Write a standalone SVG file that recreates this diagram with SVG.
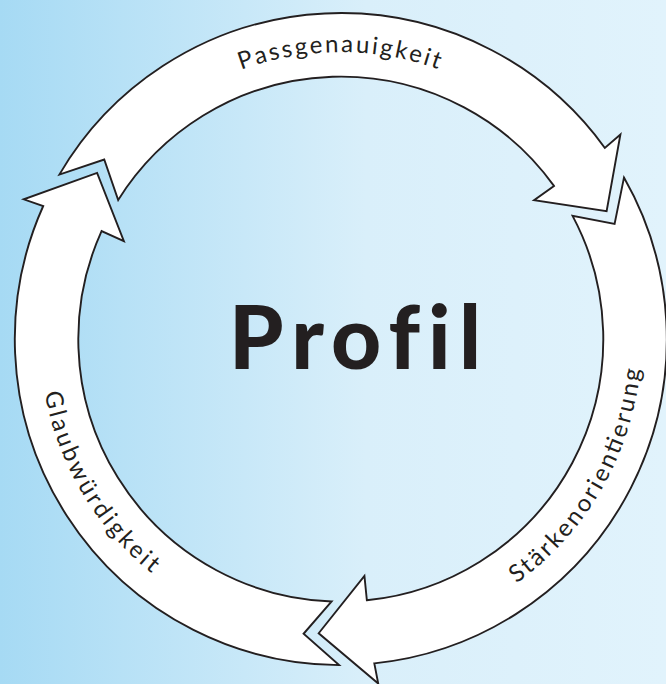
<svg xmlns="http://www.w3.org/2000/svg" xmlns:xlink="http://www.w3.org/1999/xlink" width="666" height="684" viewBox="0 0 666 684">
  <defs>
    <linearGradient id="bg" x1="0" y1="0" x2="1" y2="0">
      <stop offset="0" stop-color="#a6daf4"/>
      <stop offset="0.55" stop-color="#d9effa"/>
      <stop offset="1" stop-color="#e1f3fc"/>
    </linearGradient>
    <path id="tp-pass" d="M241.2,69.9 A287,287 0 0 1 484.3,90.6"/>
    <path id="tp-staerke" d="M516.4,583.5 A301,301 0 0 0 640.7,312.9"/>
    <path id="tp-glaub" d="M44.6,392.9 A301,301 0 0 0 190.3,599.8"/>
  </defs>
  <style>
    .arrow{fill:#ffffff;stroke:#231f20;stroke-width:1.9;stroke-linejoin:miter;stroke-miterlimit:10}
    .lbl{font-family:Lato,"Open Sans","DejaVu Sans",sans-serif;font-size:24px;fill:#231f20}
    .title{font-family:Lato,"Open Sans","DejaVu Sans",sans-serif;font-weight:900;font-size:87px;fill:#231f20;font-variant-ligatures:none;font-feature-settings:"liga" 0}
  </style>
  <rect x="0" y="0" width="666" height="684" fill="url(#bg)"/>
  <g id="connectors">
    <g id="arrow-passgenauigkeit">
      <path class="arrow" d="M59.33,174.62 A326,326 0 0 1 604.87,147.94 L620.41,134.45 L606.62,211.17 L534.07,200.22 L553.97,185.92 A262.5,262.5 0 0 0 118.19,200.00 L104.23,159.53 Z"/>
      <text class="lbl"><textPath xlink:href="#tp-pass" href="#tp-pass" textLength="201" lengthAdjust="spacing">Passgenauigkeit</textPath></text>
    </g>
    <g id="arrow-staerkenorientierung">
      <path class="arrow" transform="rotate(120 340.8 339.1)" d="M59.33,174.62 A326,326 0 0 1 604.87,147.94 L620.41,134.45 L606.62,211.17 L534.07,200.22 L553.97,185.92 A262.5,262.5 0 0 0 118.19,200.00 L104.23,159.53 Z"/>
      <text class="lbl"><textPath xlink:href="#tp-staerke" href="#tp-staerke" textLength="255" lengthAdjust="spacing">Stärkenorientierung</textPath></text>
    </g>
    <g id="arrow-glaubwuerdigkeit">
      <path class="arrow" transform="rotate(240 340.8 339.1)" d="M59.33,174.62 A326,326 0 0 1 604.87,147.94 L620.41,134.45 L606.62,211.17 L534.07,200.22 L553.97,185.92 A262.5,262.5 0 0 0 118.19,200.00 L104.23,159.53 Z"/>
      <text class="lbl"><textPath xlink:href="#tp-glaub" href="#tp-glaub" textLength="214" lengthAdjust="spacing">Glaubwürdigkeit</textPath></text>
    </g>
  </g>
  <g id="node-profil">
    <text class="title" x="229" y="369.3" textLength="252" lengthAdjust="spacing">Profil</text>
  </g>
</svg>
